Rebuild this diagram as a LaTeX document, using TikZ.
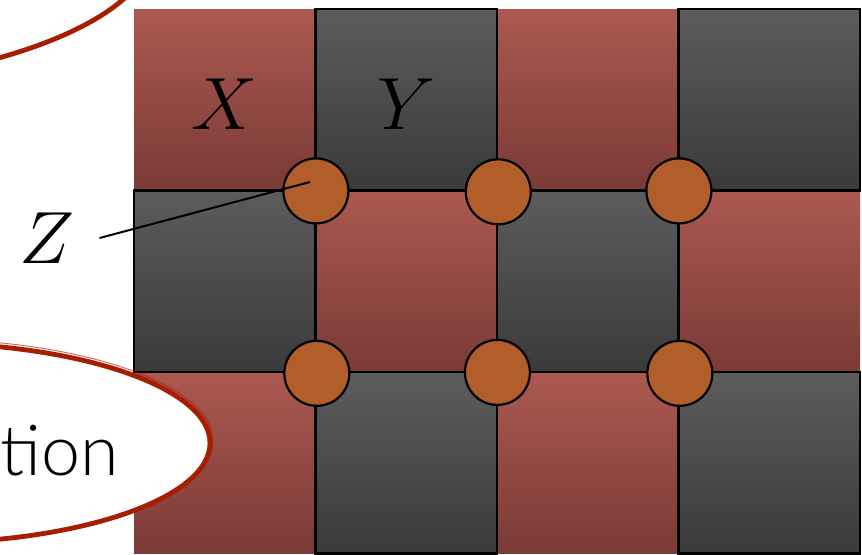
\documentclass[tikz,border=0pt]{standalone}
\usepackage{fontspec}
\newfontfamily\thinfont{Lato}[UprightFont={* Light}]
\DeclareFontShape{OML}{cmm}{m}{it}{<-> cmmi12}{\skewchar\font=127}
\usepackage{tikz}
\usetikzlibrary{positioning}
\definecolor{redtop}{HTML}{AB5950}
\definecolor{redbot}{HTML}{7A3A36}
\definecolor{graytop}{HTML}{5C5C5C}
\definecolor{graybot}{HTML}{3A3A3A}
\definecolor{dotfill}{HTML}{B15E2B}
\definecolor{brushred}{HTML}{A81C00}

\begin{document}
\begin{tikzpicture}[x=0.5pt,y=-0.5pt,
  redcell/.style={rectangle,minimum width=90.75pt,minimum height=90.75pt,inner sep=0pt,top color=redtop,bottom color=redbot},
  graycell/.style={redcell,top color=graytop,bottom color=graybot,draw=black,line width=1.3pt},
  dot/.style={circle,minimum size=32.5pt,inner sep=0pt,fill=dotfill,draw=black,line width=1.1pt},
  mathlabel/.style={font=\fontsize{37}{40}\selectfont},
  pointer/.style={draw=black,line width=1pt},
  brush/.style={draw=brushred,line width=2.4pt,line cap=round}]
  \useasboundingbox (0,0) rectangle (862,554);
  \clip (0,0) rectangle (862,554);
  % board
  \foreach \r in {1,2,3}
    \foreach \c in {1,...,4} {
      \pgfmathtruncatemacro{\odd}{mod(\r+\c,2)}
      \ifnum\odd=0
        \node[redcell] (cell-\r-\c) at ({134+181.5*(\c-0.5)},{9+181.5*(\r-0.5)}) {};
      \fi
    }
  \foreach \r in {1,2,3}
    \foreach \c in {1,...,4} {
      \pgfmathtruncatemacro{\odd}{mod(\r+\c,2)}
      \ifnum\odd=1
        \node[graycell] (cell-\r-\c) at ({134+181.5*(\c-0.5)},{9+181.5*(\r-0.5)}) {};
      \fi
    }
  \foreach \r in {1,2}
    \foreach \c in {1,2,3}
      \node[dot] (dot-\r-\c) at (cell-\r-\c.south east) {};
  \node[mathlabel] (x) at ([yshift=-2pt]cell-1-1) {$X$};
  \node[mathlabel] (y) at ([yshift=-2pt]cell-1-2) {$Y$};
  \node[mathlabel] (z) at (47,238) {$Z$};
  \coordinate (zend) at (310,182);
  \draw[pointer] ([xshift=9pt]z.east) -- (zend);
  % highlight strokes
  \draw[brush] (-5,59) .. controls (50,44) and (100,22) .. (128,-5);
  \fill[white] (-80,443) ellipse [x radius=145pt,y radius=50pt];
  \draw[brush] (-80,443) ellipse [x radius=145pt,y radius=50pt];
  \draw[brush,line width=0.5pt,opacity=0.6] (-80,441) ellipse [x radius=146.5pt,y radius=51pt];
  \node[font=\thinfont\fontsize{35}{38}\selectfont,anchor=base west,inner sep=0pt] (word) at (0,475) {tion};
\end{tikzpicture}
\end{document}
